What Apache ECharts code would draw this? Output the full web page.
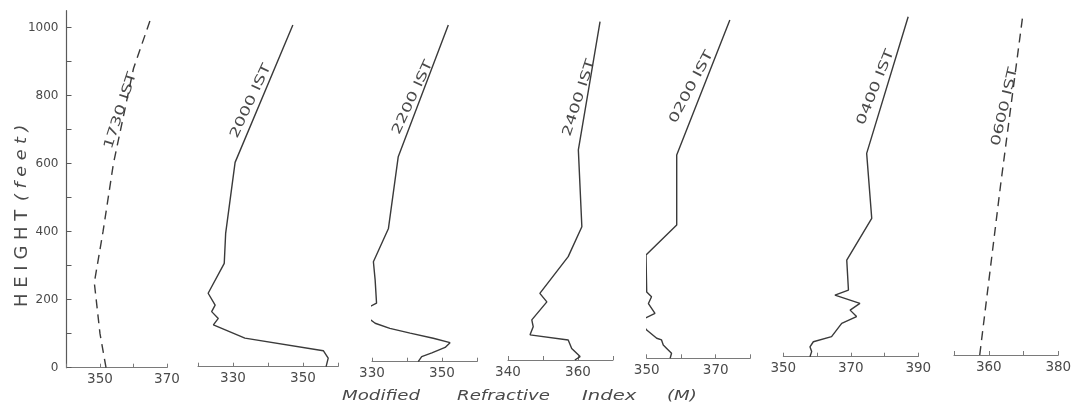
<!DOCTYPE html>
<html><head><meta charset="utf-8">
<script src="https://cdn.jsdelivr.net/npm/echarts@6/dist/echarts.min.js"></script>
<style>html,body{margin:0;padding:0;background:#fff}#c{width:1075px;height:410px}</style>
</head><body><div id="c"></div>
<script>
// ---- data (height in feet, modified refractive index M) ----
const yTicks = [0,100,200,300,400,500,600,700,800,900,1000];
const yLabels = [0,200,400,600,800,1000];

const names = ['1730 IST','2000 IST','2200 IST','2400 IST','0200 IST','0400 IST','0600 IST'];

const h1730 = [0, 100, 250, 400, 600, 880, 1020];
const m1730 = [351.8, 350.0, 348.3, 350.9, 354.0, 360.0, 364.9];

const h2000 = [0, 25, 47, 84, 123, 142, 162, 181, 216, 304, 392, 601, 1005];
const m2000 = [356.6, 357.2, 355.8, 333.4, 324.4, 325.8, 323.9, 324.9, 322.9, 327.5, 327.9, 330.6, 347.1];

const h2200 = [0, 15, 26, 42, 56, 69, 84, 98, 113, 128, 147, 162, 172, 240, 294, 392, 603, 990];
const m2200 = [343.2, 344.2, 347.1, 350.9, 352.3, 347.5, 340.9, 335.1, 330.9, 329.0, 328.3, 329.4, 331.3, 330.9, 330.4, 334.7, 337.5, 351.8];

const h2400 = [0, 10, 34, 59, 74, 98, 118, 171, 196, 304, 392, 618, 995];
const m2400 = [359.1, 360.6, 358.2, 357.2, 346.3, 347.2, 346.8, 351.1, 349.1, 357.2, 361.1, 360.1, 366.3];

const h0200 = [0, 15, 29, 39, 54, 59, 83, 102, 118, 132, 161, 181, 195, 304, 392, 598, 995];
const m0200 = [356.8, 357.2, 355.8, 354.8, 354.3, 352.9, 350.0, 348.6, 349.5, 352.4, 350.5, 351.4, 350.0, 349.8, 358.7, 358.7, 374.1];

const h0400 = [0, 15, 29, 44, 59, 98, 118, 137, 157, 181, 196, 284, 407, 598, 1000];
const m0400 = [357.9, 358.4, 357.9, 358.9, 364.3, 367.3, 371.7, 369.8, 372.7, 365.3, 369.3, 368.8, 376.2, 374.7, 387.0];

const h0600 = [0, 500, 1000];
const m0600 = [357.4, 363.4, 369.8];

const xMins = [340, 320, 330, 340, 350, 350, 350];
const xMaxs = [370, 360, 360, 370, 380, 390, 380];
const xTickLabels = [[350,370],[330,350],[330,350],[340,360],[350,370],[350,370,390],[360,380]];

const heights = [h1730, h2000, h2200, h2400, h0200, h0400, h0600];
const values  = [m1730, m2000, m2200, m2400, m0200, m0400, m0600];
const dashed  = [true, false, false, false, false, false, true];

// ---- layout / style (pixels) ----
const FT_PX = 0.34, Y_MAX = 1050, GRID_H = Y_MAX * FT_PX;
const layout = [
  {left: 66.5,  width: 100.5, base: 367.7, lh: 756, ang: 72, off: 4},
  {left: 198,   width: 140,   base: 366.7, lh: 781, ang: 65, off: 10},
  {left: 372,   width: 105,   base: 361.7, lh: 777, ang: 65, off: 8},
  {left: 508,   width: 105,   base: 360.0, lh: 771, ang: 72, off: 8},
  {left: 646.7, width: 103.5, base: 358.3, lh: 798, ang: 62, off: 12},
  {left: 783.3, width: 135,   base: 356.7, lh: 792, ang: 68, off: 11},
  {left: 954,   width: 104.3, base: 355.0, lh: 730, ang: 77, off: 6}
];
const INK = '#3a3a3a', TXT = '#4a4a4a', AX = '#7a7a7a';
const FONT = 'DejaVu Sans';

const chart = echarts.init(document.getElementById('c'));

const option = {
  animation: false,
  backgroundColor: '#ffffff',
  grid: layout.map(L => ({left: L.left, top: L.base - GRID_H, width: L.width, height: GRID_H,
                          containLabel: false, outerBoundsMode: 'none'})),
  xAxis: layout.map((L, i) => ({
    type: 'value', gridIndex: i, min: xMins[i], max: xMaxs[i], interval: 10,
    axisLine: {show: true, onZero: false, lineStyle: {color: AX, width: 1}},
    axisTick: {show: true, inside: true, length: 4, lineStyle: {color: AX, width: 1}},
    axisLabel: {show: true, margin: 5, color: TXT, fontSize: 13.5, fontFamily: FONT,
                formatter: v => xTickLabels[i].indexOf(v) >= 0 ? String(v) : ''},
    splitLine: {show: false}
  })),
  yAxis: layout.map((L, i) => i === 0 ? ({
    type: 'value', gridIndex: i, min: 0, max: Y_MAX, interval: 100,
    axisLine: {show: true, lineStyle: {color: '#5a5a5a', width: 1.2}},
    axisTick: {show: true, inside: true, length: 5, customValues: yTicks, lineStyle: {color: '#5a5a5a'}},
    axisLabel: {show: true, margin: 8, color: TXT, fontSize: 12, fontFamily: FONT, customValues: yLabels,
                formatter: v => (v % 200 === 0 && v <= 1000) ? String(v) : ''},
    splitLine: {show: false}
  }) : ({
    type: 'value', gridIndex: i, min: 0, max: Y_MAX, show: false, splitLine: {show: false}
  })),
  series: heights.map((h, i) => ({
    type: 'line', name: names[i], xAxisIndex: i, yAxisIndex: i,
    data: h.map((hh, k) => [values[i][k], hh]),
    showSymbol: false, symbol: 'none', smooth: false, clip: false,
    lineStyle: {color: INK, width: 1.4, type: dashed[i] ? [9, 6] : 'solid'},
    silent: true
  }))
};
chart.setOption(option);

function interpAt(h, m, target) {
  for (let k = 0; k < h.length - 1; k++) {
    if (target >= h[k] && target <= h[k+1]) {
      const t = (target - h[k]) / (h[k+1] - h[k]);
      return m[k] + t * (m[k+1] - m[k]);
    }
  }
  return m[m.length - 1];
}

const graphics = [];
layout.forEach((L, i) => {
  const mv = interpAt(heights[i], values[i], L.lh);
  const p = chart.convertToPixel({gridIndex: i}, [mv, L.lh]);
  graphics.push({
    type: 'text', x: p[0] - L.off, y: p[1], rotation: L.ang * Math.PI / 180, scaleX: 1.4,
    silent: true,
    style: {text: names[i], fill: TXT, font: '13px "' + FONT + '"',
            textAlign: 'center', textVerticalAlign: 'middle', align: 'center', verticalAlign: 'middle'}
  });
});
// axis titles
graphics.push({
  type: 'text', x: 22, y: 307, rotation: Math.PI / 2, silent: true,
  style: {text: 'H E I G H T', fill: TXT, font: '18px "' + FONT + '"',
          textAlign: 'left', textVerticalAlign: 'middle', align: 'left', verticalAlign: 'middle'}
});
graphics.push({
  type: 'text', x: 22, y: 201, rotation: Math.PI / 2, scaleX: 1.1, silent: true,
  style: {text: '( f e e t )', fill: TXT, font: 'italic 16px "' + FONT + '"',
          textAlign: 'left', textVerticalAlign: 'middle', align: 'left', verticalAlign: 'middle'}
});
const bottomWords = [['Modified', 342, 1.3], ['Refractive', 457, 1.3], ['Index', 582, 1.4], ['(M)', 667, 1.3]];
bottomWords.forEach(w => graphics.push({
  type: 'text', x: w[1], y: 396, scaleX: w[2], silent: true,
  style: {text: w[0], fill: TXT, font: 'italic 14px "' + FONT + '"',
          textAlign: 'left', textVerticalAlign: 'middle', align: 'left', verticalAlign: 'middle'}
}));
chart.setOption({graphic: graphics});
</script>
</body></html>
